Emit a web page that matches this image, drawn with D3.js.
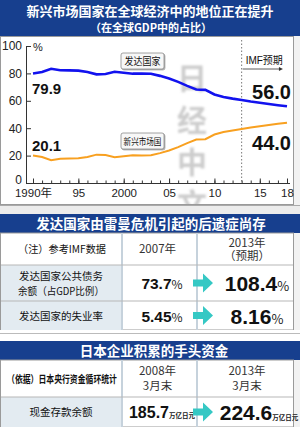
<!DOCTYPE html>
<html><head><meta charset="utf-8">
<script src="https://cdn.jsdelivr.net/npm/d3@7"></script>
<style>
html,body{margin:0;padding:0;background:#fff;}
svg{display:block;}
text{font-family:"Liberation Sans","Noto Sans CJK SC",sans-serif;}
.cjk{font-family:"Noto Sans CJK SC",sans-serif;}
</style></head><body>
<script>
// ---- data ----
const years = [1990,1991,1992,1993,1994,1995,1996,1997,1998,1999,2000,2001,2002,2003,2004,2005,2006,2007,2008,2009,2010,2011,2012,2013,2014,2015,2016,2017,2018];
const advanced = [79.9,81.0,83.4,82.3,82.2,82.0,81.0,79.3,79.6,81.2,80.5,79.8,79.9,79.8,78.2,76.3,73.8,70.9,68.3,68.0,64.6,62.8,61.6,60.6,59.5,58.6,57.7,56.8,56.0];
const emerging = [20.1,19.0,16.6,17.7,17.8,18.0,19.0,20.7,20.4,18.8,19.5,20.2,20.1,20.2,21.8,23.7,26.2,29.1,31.7,32.0,35.4,37.2,38.4,39.4,40.5,41.4,42.3,43.2,44.0];
const yTicks = [0,20,40,60,80,100];
const xMajor = [1990,1995,2000,2005,2010,2015,2018];
const xLabels = ["1990年","95","2000","05","10","15","18"];
const forecastStart = 2013;
const seriesNames = ["发达国家","新兴市场国"];
const endLabels = ["56.0","44.0"];
const startLabels = ["79.9","20.1"];

const title1 = "新兴市场国家在全球经济中的地位正在提升";
const title2 = "（在全球GDP中的占比）";
const title3 = "发达国家由雷曼危机引起的后遗症尚存";
const title4 = "日本企业积累的手头资金";

const t2Head = ["（注）参考IMF数据","2007年",["2013年","（预期）"]];
const t2RowNames = [["发达国家公共债务","余额（占GDP比例）"],["发达国家的失业率"]];
const t2Before = ["73.7","5.45"];
const t2After = ["108.4","8.16"];
const t2Unit = "%";

const t3Head = ["（依据）日本央行资金循环统计",["2008年","3月末"],["2013年","3月末"]];
const t3RowNames = ["现金存款余额"];
const t3Before = ["185.7"];
const t3After = ["224.6"];
const t3Unit = "万亿日元";

const watermark = ["日","经","中","文","网"];

// ---- drawing ----
const W=300,H=427;
const BLUE="#173f8e", TEAL="#35c8c4", LIGHT="#e3ebf1", SEP="#c6d2dc";
const svg=d3.select("body").append("svg").attr("width",W).attr("height",H);
const defs=svg.append("defs");
defs.append("filter").attr("id","blur").append("feGaussianBlur").attr("stdDeviation",1.1);
const sh=defs.append("filter").attr("id","shadow").attr("x","-20%").attr("y","-20%").attr("width","150%").attr("height","160%");
sh.append("feDropShadow").attr("dx",1).attr("dy",1).attr("stdDeviation",0.6).attr("flood-color","#888").attr("flood-opacity",0.7);

svg.append("rect").attr("width",W).attr("height",H).attr("fill","#f2f2f2");

// header 1
svg.append("rect").attr("x",0).attr("y",0).attr("width",W).attr("height",36).attr("fill",BLUE);
svg.append("text").attr("class","cjk").attr("x",150).attr("y",16).attr("text-anchor","middle")
  .attr("font-size",13).attr("font-weight","bold").attr("fill","#fff").text(title1);
svg.append("text").attr("class","cjk").attr("x",151).attr("y",31.5).attr("text-anchor","middle")
  .attr("font-size",11).attr("font-weight","bold").attr("fill","#fff").text(title2);

// chart panel
svg.append("rect").attr("x",0.5).attr("y",36.5).attr("width",293).attr("height",168).attr("fill","#fff").attr("stroke","#9a9a9a");

const x=d3.scaleLinear().domain([1990,2018]).range([33,287]);
const y=d3.scaleLinear().domain([0,100]).range([183,46]);

// watermark
const wm=svg.append("g").attr("filter","url(#blur)");
watermark.forEach((c,i)=>{
  wm.append("text").attr("class","cjk").attr("x",192).attr("y",[89,131,173,215,252][i])
    .attr("text-anchor","middle").attr("font-size",30).attr("font-weight","bold")
    .attr("fill","#9c9c9c").attr("opacity",0.5).text(c);
});

// forecast divider
svg.append("line").attr("x1",x(forecastStart)).attr("x2",x(forecastStart)).attr("y1",40).attr("y2",y(0))
  .attr("stroke","#777").attr("stroke-width",1).attr("stroke-dasharray","1.5,2");
svg.append("text").attr("x",x(forecastStart)+4).attr("y",64).attr("font-size",10).attr("fill","#111")
  .text("IMF").append("tspan").attr("class","cjk").text("预期");
svg.append("line").attr("x1",x(forecastStart)+1).attr("x2",x(2017)+2).attr("y1",69).attr("y2",69).attr("stroke","#333").attr("stroke-width",0.8);
svg.append("path").attr("d",`M${x(2017)+5},69 l-4,-2 v4 z`).attr("fill","#333");

// axes
const yAxis=d3.axisLeft(y).tickValues(yTicks).tickSizeInner(-5).tickSizeOuter(0).tickPadding(4);
const gy=svg.append("g").attr("transform","translate(26,0)").call(yAxis);
gy.select(".domain").attr("stroke","#333");
gy.selectAll(".tick line").attr("stroke","#333");
gy.selectAll(".tick text").attr("font-size",12).attr("fill","#222").attr("font-family","Liberation Sans, sans-serif")
  .attr("dy",d=>d===0?"0.08em":"0.32em");
svg.append("text").attr("x",33).attr("y",51).attr("font-size",11).attr("fill","#222").text("%");

const xMinor=d3.axisBottom(x).tickValues(years).tickSizeInner(-2.5).tickSizeOuter(0).tickFormat("");
const gxm=svg.append("g").attr("transform",`translate(0,${y(0)})`).call(xMinor);
gxm.select(".domain").remove();
gxm.selectAll(".tick line").attr("stroke","#333");
const xAx=d3.axisBottom(x).tickValues(xMajor).tickSizeInner(-4.5).tickSizeOuter(0).tickPadding(6)
  .tickFormat((d,i)=>xLabels[i]);
const gx=svg.append("g").attr("transform",`translate(0,${y(0)})`).call(xAx);
gx.select(".domain").attr("d",`M26,0.5H290`).attr("stroke","#333");
gx.selectAll(".tick line").attr("stroke","#333");
gx.selectAll(".tick text").attr("font-size",11.5).attr("fill","#222").attr("font-family","Liberation Sans, Noto Sans CJK SC, sans-serif");

// lines
const line=d3.line().x((d,i)=>x(years[i])).y(d=>y(d));
svg.append("path").datum(emerging).attr("d",line).attr("fill","none").attr("stroke","#f8a020").attr("stroke-width",2);
svg.append("path").datum(advanced).attr("d",line).attr("fill","none").attr("stroke","#1212ee").attr("stroke-width",2.6);

// value labels
svg.append("text").attr("x",32).attr("y",94).attr("font-size",15).attr("font-weight","bold").attr("fill","#111").text(startLabels[0]);
svg.append("text").attr("x",32).attr("y",151).attr("font-size",15).attr("font-weight","bold").attr("fill","#111").text(startLabels[1]);
svg.append("text").attr("x",291).attr("y",99).attr("text-anchor","end").attr("font-size",20).attr("font-weight","bold").attr("fill","#111").text(endLabels[0]);
svg.append("text").attr("x",291).attr("y",150).attr("text-anchor","end").attr("font-size",20).attr("font-weight","bold").attr("fill","#111").text(endLabels[1]);

// compress text horizontally with a transform so its box is its real size
function squeeze(g, cx, cy, txt, fs, maxW, attrs){
  const t=g.append("text").attr("class","cjk").attr("text-anchor","middle").attr("font-size",fs).text(txt);
  Object.entries(attrs||{}).forEach(([k,v])=>t.attr(k,v));
  const w=t.node().getComputedTextLength();
  const s=w>maxW?maxW/w:1;
  t.attr("transform",`translate(${cx},${cy}) scale(${s},1)`);
  return t;
}

// legend boxes
[[53,seriesNames[0],10,36],[133,seriesNames[1],9,38]].forEach(([yy,t,fs,tl])=>{
  svg.append("rect").attr("x",121).attr("y",yy).attr("width",43).attr("height",16).attr("rx",2)
    .attr("fill","#f7f7f7").attr("stroke","#8a8a8a").attr("stroke-width",0.8).attr("filter","url(#shadow)");
  squeeze(svg,142.5,yy+12,t,fs,tl,{fill:"#111"});
});

// ---- table 2 ----
const c1=122,c2=197,right=293;
svg.append("rect").attr("x",0).attr("y",205).attr("width",W).attr("height",10).attr("fill","#ececec");
svg.append("line").attr("x1",0).attr("x2",W).attr("y1",205.5).attr("y2",205.5).attr("stroke","#aaa");
svg.append("rect").attr("x",0).attr("y",214).attr("width",W).attr("height",19).attr("fill",BLUE);
svg.append("text").attr("class","cjk").attr("x",151).attr("y",228.5).attr("text-anchor","middle")
  .attr("font-size",13.5).attr("font-weight","bold").attr("fill","#fff").text(title3);

function table(top, rowYs, head, headH, names, before, after, unit, big, headW, lineGap){
  const bottom=rowYs[rowYs.length-1][1];
  svg.append("rect").attr("x",0.5).attr("y",top).attr("width",right).attr("height",bottom-top).attr("fill","#fff").attr("stroke","#9a9a9a");
  rowYs.forEach(([a,b])=>{
    svg.append("rect").attr("x",1).attr("y",a).attr("width",c1-1).attr("height",b-a).attr("fill",LIGHT);
  });
  [c1,c2].forEach(cx=>svg.append("line").attr("x1",cx).attr("x2",cx).attr("y1",top).attr("y2",bottom).attr("stroke",SEP).attr("stroke-width",2));
  rowYs.forEach(([a])=>svg.append("line").attr("x1",1).attr("x2",right).attr("y1",a).attr("y2",a).attr("stroke","#b8b8b8").attr("stroke-width",1.2));
  const hy=top+headH/2;
  squeeze(svg,c1/2+1,hy+4,head[0],10.5,headW,{"font-weight":big?"bold":"normal",fill:"#111"});
  [head[1],head[2]].forEach((h,i)=>{
    const cx=i===0?(c1+c2)/2-2:(c2+right)/2+2;
    const arr=Array.isArray(h)?h:[h];
    arr.forEach((s,j)=>{
      svg.append("text").attr("class","cjk").attr("x",cx).attr("y",hy+4+(j-(arr.length-1)/2)*lineGap).attr("text-anchor","middle")
        .attr("font-size",11.5).attr("fill","#333").text(s);
    });
  });
  rowYs.forEach(([a,b],r)=>{
    const cy=(a+b)/2;
    const nm=Array.isArray(names[r])?names[r]:[names[r]];
    nm.forEach((s,j)=>{
      squeeze(svg,c1/2,cy+4+(j-(nm.length-1)/2)*15,s,10.5,86,{fill:"#111"});
    });
    const tb=svg.append("text").attr("x",162).attr("y",cy+6).attr("text-anchor","middle");
    tb.append("tspan").attr("font-size",big?16:15.5).attr("font-weight","bold").attr("fill","#111").text(before[r]);
    tb.append("tspan").attr("class","cjk").attr("font-size",big?6.5:12).attr("font-weight",big?"bold":"normal").attr("fill","#222").text(unit);
    const ax=c2-4;
    svg.append("path").attr("d",`M${ax},${cy-3.5} h10 v-6 l10,9.5 l-10,9.5 v-6 h-10 z`).attr("fill",TEAL);
    const ta=svg.append("text").attr("x",big?259:257).attr("y",cy+8).attr("text-anchor","middle");
    ta.append("tspan").attr("font-size",21).attr("font-weight","bold").attr("fill","#111").text(after[r]);
    ta.append("tspan").attr("class","cjk").attr("font-size",big?6.5:13).attr("font-weight",big?"bold":"normal").attr("fill","#222").text(unit);
  });
}
table(233,[[265,301],[301,330]],t2Head,32,t2RowNames,t2Before,t2After,t2Unit,false,88,13);

// ---- table 3 ----
svg.append("rect").attr("x",0).attr("y",330).attr("width",W).attr("height",11).attr("fill","#fff");
svg.append("line").attr("x1",0).attr("x2",W).attr("y1",333.5).attr("y2",333.5).attr("stroke","#bbb");
svg.append("rect").attr("x",0).attr("y",341).attr("width",W).attr("height",19).attr("fill",BLUE);
svg.append("text").attr("class","cjk").attr("x",154).attr("y",355.5).attr("text-anchor","middle")
  .attr("font-size",13.5).attr("font-weight","bold").attr("fill","#fff").text(title4);
table(360,[[397,427]],t3Head,37,t3RowNames,t3Before,t3After,t3Unit,true,110,15);
</script>
</body></html>
